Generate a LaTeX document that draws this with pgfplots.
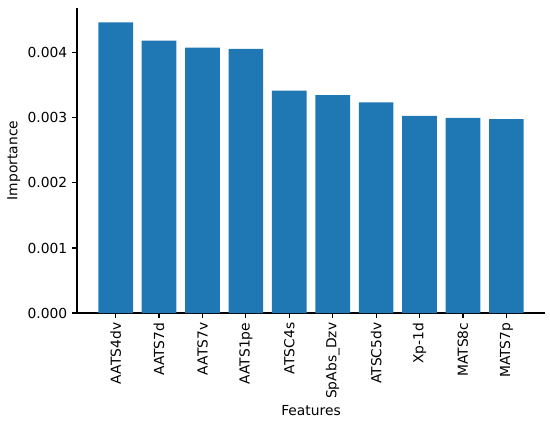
\documentclass[border=0pt]{standalone}
\usepackage{fontspec}
\setmainfont{DejaVu Sans}
\usepackage{pgfplots}
\pgfplotsset{compat=1.18}
\definecolor{mplblue}{HTML}{1F77B4}
\begin{document}
\begin{tikzpicture}
\begin{axis}[
  width=336.96bp, height=219.6bp, scale only axis,
  xmin=-0.89, xmax=9.89, ymin=0, ymax=0.00469,
  axis x line*=bottom, axis y line*=left,
  axis line style={black, line width=0.8bp},
  tick align=outside, major tick length=3.5bp,
  tick style={black, line width=0.8bp},
  xtick=data,
  xticklabels={AATS4dv,AATS7d,AATS7v,AATS1pe,ATSC4s,SpAbs\_Dzv,ATSC5dv,Xp-1d,MATS8c,MATS7p},
  x tick label style={rotate=90, anchor=east, font=\fontsize{10}{12}\selectfont},
  ytick={0,0.001,0.002,0.003,0.004},
  scaled y ticks=false,
  yticklabel style={/pgf/number format/fixed, /pgf/number format/precision=3, /pgf/number format/fixed zerofill, /pgf/number format/assume math mode=true, font=\fontsize{10}{12}\selectfont},
  ylabel={Importance}, xlabel={Features},
  label style={font=\fontsize{10}{12}\selectfont},
  xlabel style={yshift=2bp},
  ylabel style={yshift=-1.5bp},
  ybar, bar width=0.8, bar shift=0pt,
]
\addplot[fill=mplblue, draw=none] coordinates {
(0,0.00447) (1,0.00419) (2,0.00408) (3,0.00406) (4,0.00342)
(5,0.00335) (6,0.00324) (7,0.00303) (8,0.00300) (9,0.00298)
};
\end{axis}
\pgfresetboundingbox
\path[use as bounding box] ([xshift=-55.44bp,yshift=-79.2bp]current axis.south west) rectangle ([xshift=3.6bp,yshift=5.76bp]current axis.north east);
\end{tikzpicture}
\end{document}
